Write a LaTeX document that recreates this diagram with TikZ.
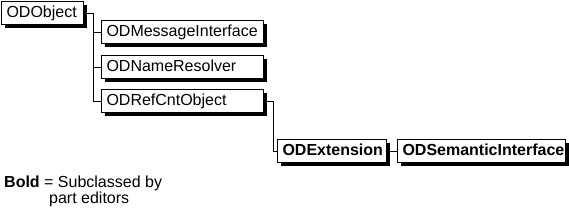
\documentclass[tikz,border=0pt]{standalone}
\usepackage{fontspec}
\setmainfont{Liberation Sans}
\usetikzlibrary{shadows}
\begin{document}
\begin{tikzpicture}[x=1pt,y=-1pt,
  box/.style={draw=black, line width=1pt, fill=white, anchor=north west,
    inner xsep=5pt, inner ysep=0pt, minimum height=23pt, align=left,
    text height=11.5pt, text depth=3.5pt,
    font=\fontsize{16}{19}\selectfont,
    drop shadow={shadow xshift=3.3pt, shadow yshift=-3.3pt, fill=black, opacity=1, draw=none}},
  link/.style={draw=black, line width=1pt},
  legend/.style={anchor=base west, inner sep=0pt, font=\fontsize{16}{19}\selectfont}]
\useasboundingbox (0,0) rectangle (569,214);
\node[box, text width=72pt] (obj) at (1,1) {ODObject};
\node[box, text width=152pt] (mi) at (101,20) {ODMessageInterface};
\node[box, text width=152pt] (nr) at (101,55) {ODNameResolver};
\node[box, text width=152pt] (rc) at (101,89) {ODRefCntObject};
\node[box, text width=99pt, font=\fontsize{16}{19}\selectfont\bfseries] (ext) at (277,139) {ODExtension};
\node[box, text width=158pt, font=\fontsize{16}{19}\selectfont\bfseries] (sem) at (397,139) {ODSemanticInterface};
\coordinate (t1) at (93,0);
\coordinate (t2) at (273,0);
\draw[link] (obj.east) -| (t1 |- rc.west) -- (rc.west);
\draw[link] (t1 |- mi.west) -- (mi.west);
\draw[link] (t1 |- nr.west) -- (nr.west);
\draw[link] (rc.east) -| (t2 |- ext.west) -- (ext.west);
\draw[link] (ext.east) -- (sem.west);
\node[legend] (leg1) at (4,187) {\textbf{Bold} = Subclassed by};
\node[legend] (leg2) at (49,203) {part editors};
\end{tikzpicture}
\end{document}
